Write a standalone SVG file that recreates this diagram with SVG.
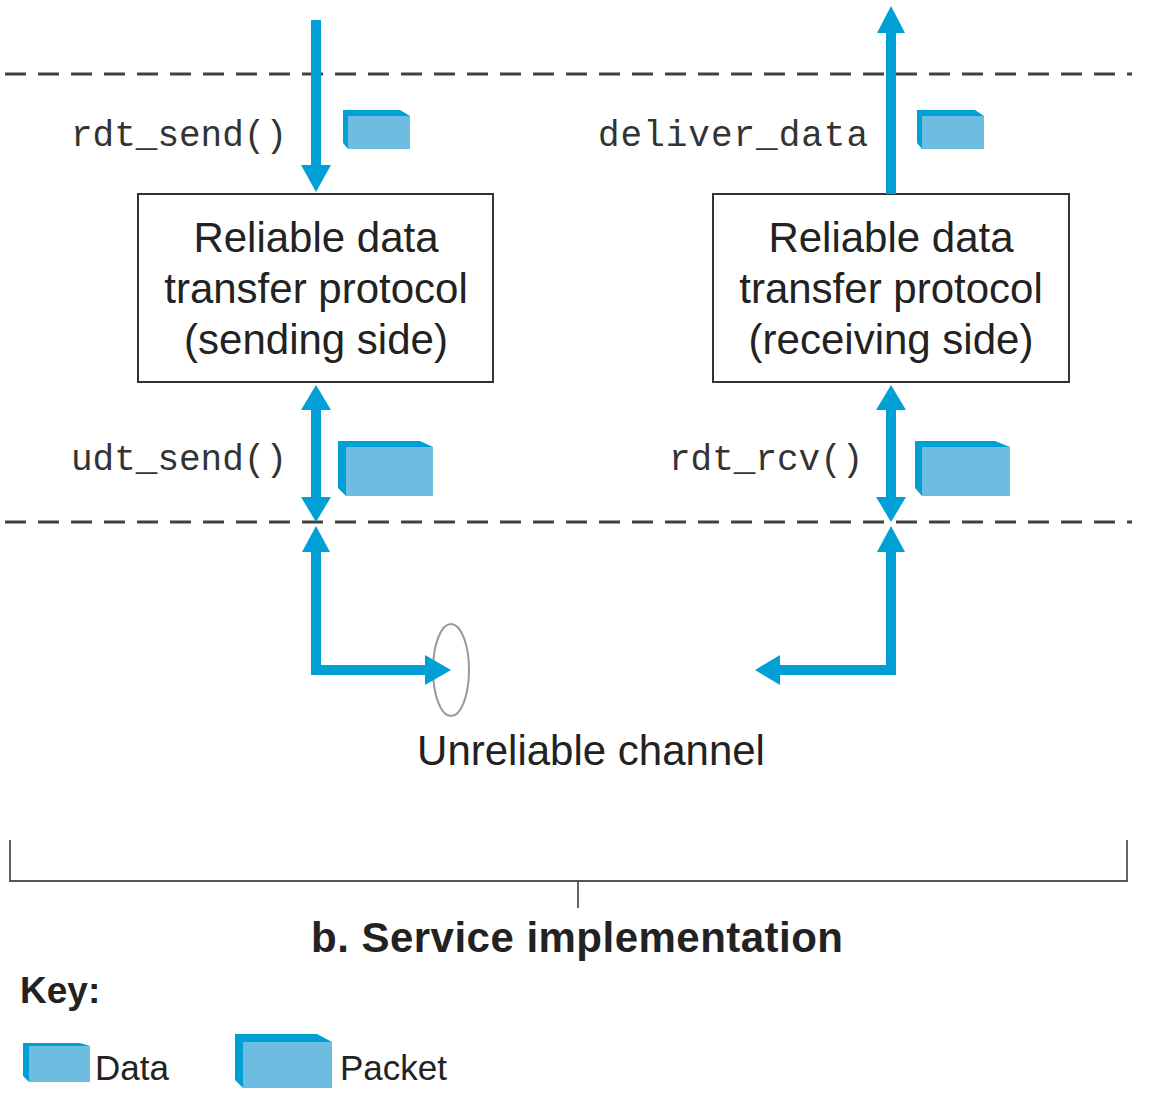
<svg xmlns="http://www.w3.org/2000/svg" width="1152" height="1098" viewBox="0 0 1152 1098">
<style>
.dash{stroke:#3f3f3f;stroke-width:3;stroke-dasharray:21 12;fill:none}
.shaft{stroke:#00a0d6;stroke-width:10;fill:none}
.head{fill:#00a0d6}
.box{fill:#fff;stroke:#333;stroke-width:2}
.lbl{font-family:"Liberation Sans",Arial,sans-serif;font-size:42px;fill:#222;text-anchor:middle}
.mono{font-family:"Liberation Mono","Courier New",monospace;font-size:36px;fill:#333}
.dark{fill:#00a0d6}
.face{fill:#6cbde0}
.brk{stroke:#555;stroke-width:1.8;fill:none}
</style>
<rect width="1152" height="1098" fill="#fff"/>
<g id="dashes">
<line class="dash" x1="5" y1="74" x2="1132" y2="74"/>
<line class="dash" x1="5" y1="522" x2="1132" y2="522"/>
</g>
<g id="sender">
<rect class="box" x="138" y="194" width="355" height="188"/>
<text class="lbl" x="316" y="252">Reliable data</text>
<text class="lbl" x="316" y="303">transfer protocol</text>
<text class="lbl" x="316" y="354">(sending side)</text>
</g>
<g id="receiver">
<rect class="box" x="713" y="194" width="356" height="188"/>
<text class="lbl" x="891" y="252">Reliable data</text>
<text class="lbl" x="891" y="303">transfer protocol</text>
<text class="lbl" x="891" y="354">(receiving side)</text>
</g>
<g id="channel">
<ellipse cx="451" cy="670" rx="18" ry="46" fill="none" stroke="#999" stroke-width="2"/>
<text class="lbl" x="591" y="765" font-size="41">Unreliable channel</text>
</g>
<g id="connectors">
<line class="shaft" x1="316" y1="20" x2="316" y2="168"/>
<polygon class="head" points="301,165 331,165 316,192"/>
<line class="shaft" x1="891" y1="194" x2="891" y2="30"/>
<polygon class="head" points="877,33 905,33 891,6"/>
<line class="shaft" x1="316" y1="405" x2="316" y2="502"/>
<polygon class="head" points="301,410 331,410 316,385"/>
<polygon class="head" points="301,497 331,497 316,522"/>
<line class="shaft" x1="891" y1="405" x2="891" y2="502"/>
<polygon class="head" points="876,410 906,410 891,385"/>
<polygon class="head" points="876,497 906,497 891,522"/>
<polyline class="shaft" points="316,548 316,670 430,670"/>
<polygon class="head" points="302,552 330,552 316,526"/>
<polygon class="head" points="425,655 425,685 451,670"/>
<polyline class="shaft" points="891,548 891,670 776,670"/>
<polygon class="head" points="877,552 905,552 891,526"/>
<polygon class="head" points="780,655 780,685 755,670"/>
</g>
<g id="labels">
<text class="mono" x="71" y="146">rdt_send()</text>
<text class="mono" x="598" y="146" textLength="270">deliver_data</text>
<text class="mono" x="71" y="470">udt_send()</text>
<text class="mono" x="669" y="470">rdt_rcv()</text>
</g>
<g id="data-left">
<polygon class="dark" points="343,110 400,110 410,116 410,149 348,149 343,143"/>
<rect class="face" x="348" y="116" width="62" height="33"/>
</g>
<g id="data-right">
<polygon class="dark" points="917,110 975,110 984,116 984,149 922,149 917,143"/>
<rect class="face" x="922" y="116" width="62" height="33"/>
</g>
<g id="packet-left">
<polygon class="dark" points="338,441 420,441 433,447 433,496 346,496 338,488"/>
<rect class="face" x="346" y="447" width="87" height="49"/>
</g>
<g id="packet-right">
<polygon class="dark" points="915,441 995,441 1010,447 1010,496 922,496 915,488"/>
<rect class="face" x="922" y="447" width="88" height="49"/>
</g>
<g id="bracket">
<polyline class="brk" points="10,840 10,881 1127,881 1127,840"/>
<line class="brk" x1="578" y1="881" x2="578" y2="908"/>
<text x="577" y="952" font-family="Liberation Sans,Arial,sans-serif" font-size="42" font-weight="bold" fill="#222" text-anchor="middle" textLength="532">b. Service implementation</text>
</g>
<g id="key">
<text x="20" y="1003" font-family="Liberation Sans,Arial,sans-serif" font-size="37" font-weight="bold" fill="#222">Key:</text>
<polygon class="dark" points="23,1043 80,1043 90,1046 90,1082 29,1082 23,1076"/>
<rect class="face" x="29" y="1046" width="61" height="36"/>
<text x="95" y="1080" font-family="Liberation Sans,Arial,sans-serif" font-size="35" fill="#222">Data</text>
<polygon class="dark" points="235,1034 317,1034 332,1042 332,1088 243,1088 235,1080"/>
<rect class="face" x="243" y="1042" width="89" height="46"/>
<text x="340" y="1080" font-family="Liberation Sans,Arial,sans-serif" font-size="35" fill="#222">Packet</text>
</g>
</svg>
